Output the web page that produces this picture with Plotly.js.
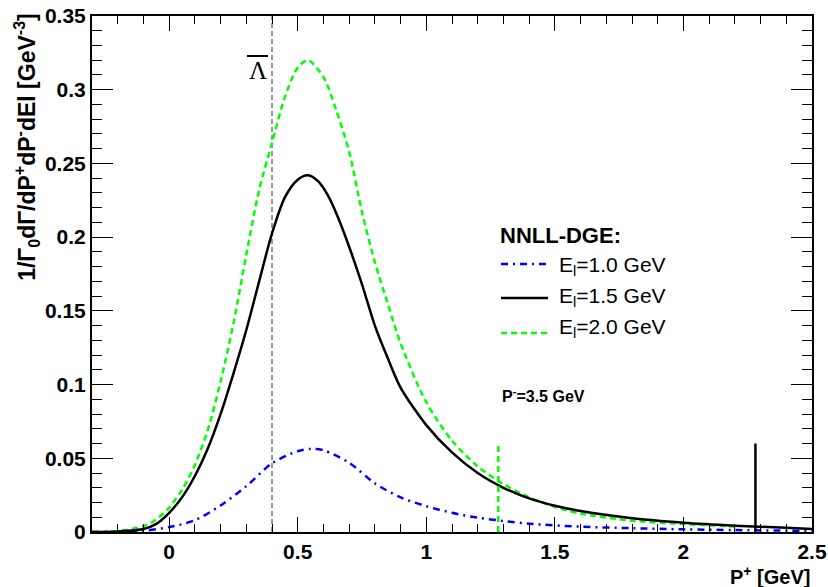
<!DOCTYPE html>
<html>
<head>
<meta charset="utf-8">
<script src="https://cdn.plot.ly/plotly-3.0.1.min.js"></script>
<style>html,body{margin:0;padding:0;background:#fff;}#chart{width:828px;height:587px;}</style>
</head>
<body>
<div id="chart"></div>
<script>
// P+ grid and curves
const xBlack = [-0.3,-0.2,-0.1,-0.05,0,0.05,0.1,0.15,0.2,0.25,0.3,0.35,0.4,0.45,0.5,0.54,0.58,0.62,0.66,0.7,0.75,0.8,0.85,0.9,1.0,1.1,1.2,1.3,1.4,1.5,1.6,1.8,2.0,2.2,2.4,2.5];
const yBlack = [0,0.0004,0.002,0.0055,0.013,0.0235,0.038,0.0565,0.080,0.1075,0.137,0.170,0.2025,0.227,0.239,0.242,0.2378,0.2275,0.212,0.1935,0.168,0.140,0.118,0.098,0.0725,0.054,0.040,0.030,0.0228,0.0178,0.0142,0.0093,0.0063,0.0043,0.0028,0.002];

const xGreen = [-0.3,-0.2,-0.1,-0.05,0,0.05,0.1,0.15,0.2,0.25,0.3,0.35,0.4,0.45,0.5,0.54,0.6,0.65,0.7,0.75,0.8,0.85,0.9,1.0,1.1,1.2,1.3,1.4,1.5,1.6,1.8,2.0,2.2];
const yGreen = [0,0.0006,0.004,0.0085,0.0165,0.0285,0.0455,0.069,0.102,0.1415,0.188,0.232,0.264,0.295,0.315,0.32,0.3086,0.286,0.258,0.217,0.183,0.155,0.128,0.088,0.062,0.0445,0.0325,0.0235,0.017,0.0125,0.0077,0.0054,0.0038];

const xBlue = [-0.3,-0.2,-0.1,0,0.1,0.2,0.3,0.4,0.5,0.55,0.6,0.7,0.8,0.9,1.0,1.1,1.2,1.3,1.4,1.6,1.8,2.0,2.2,2.5];
const yBlue = [0,0.0002,0.0008,0.0033,0.008,0.018,0.031,0.0466,0.0548,0.0563,0.0555,0.047,0.033,0.0235,0.0175,0.013,0.0097,0.0075,0.0056,0.0036,0.0026,0.0018,0.0013,0.0007];

// markers
const lambdaBarX = 0.4;
const yRangeMax = 0.35;
const greenCutX = 1.28;
const blackCutX = 2.28;
const cutHeight = 0.06;

const seriesLabels = ["E<sub>l</sub>=1.0 GeV", "E<sub>l</sub>=1.5 GeV", "E<sub>l</sub>=2.0 GeV"];

const F = "Liberation Sans, Arial, Helvetica, sans-serif";

const traces = [
  {x:[lambdaBarX,lambdaBarX], y:[0,yRangeMax], mode:'lines', line:{color:'#333', width:1, dash:'5px,3px'}, hoverinfo:'skip'},
  {x:xBlue, y:yBlue, mode:'lines', line:{color:'#0000ff', width:2.5, dash:'7px,5px,2px,5px', shape:'spline', smoothing:0.8}, name:seriesLabels[0]},
  {x:xGreen, y:yGreen, mode:'lines', line:{color:'#00ff00', width:2.5, dash:'6px,4px', shape:'spline', smoothing:0.8}, name:seriesLabels[2]},
  {x:xBlack, y:yBlack, mode:'lines', line:{color:'#000', width:2.5, shape:'spline', smoothing:0.8}, name:seriesLabels[1]},
  {x:[greenCutX,greenCutX], y:[0,cutHeight], mode:'lines', line:{color:'#00ff00', width:2.5, dash:'6px,4px'}},
  {x:[blackCutX,blackCutX], y:[0,cutHeight], mode:'lines', line:{color:'#000', width:2.5}}
];

const ax = {
  showgrid:false, zeroline:false, showline:true, linecolor:'#000', linewidth:2,
  ticks:'inside', tickcolor:'#000', tickwidth:1, mirror:'allticks',
  tickfont:{family:F, size:21, weight:'bold', color:'#000'}
};

const layout = {
  width:828, height:587,
  margin:{l:92, r:16, t:16, b:55},
  paper_bgcolor:'#fff', plot_bgcolor:'#fff',
  showlegend:false,
  xaxis:Object.assign({}, ax, {range:[-0.3,2.5], tick0:0, dtick:0.5, ticklen:15,
    minor:{tick0:0, dtick:0.1, ticks:'inside', ticklen:8, tickcolor:'#000', tickwidth:1}}),
  yaxis:Object.assign({}, ax, {range:[0,0.35], tick0:0, dtick:0.05, ticklen:21,
    minor:{tick0:0, dtick:0.01, ticks:'inside', ticklen:10, tickcolor:'#000', tickwidth:1}}),
  shapes:[
    // legend samples
    {type:'line', xref:'paper', yref:'paper', x0:(501-92)/720, x1:(548-92)/720, y0:(532-264)/516, y1:(532-264)/516, line:{color:'#0000ff', width:2.5, dash:'7px,5px,2px,5px'}},
    {type:'line', xref:'paper', yref:'paper', x0:(501-92)/720, x1:(548-92)/720, y0:(532-298)/516, y1:(532-298)/516, line:{color:'#000', width:2.5}},
    {type:'line', xref:'paper', yref:'paper', x0:(501-92)/720, x1:(548-92)/720, y0:(532-333)/516, y1:(532-333)/516, line:{color:'#00ff00', width:2.5, dash:'6px,4px'}},
    // overline of Lambda-bar
    {type:'line', xref:'paper', yref:'paper', x0:(247-92)/720, x1:(268-92)/720, y0:(532-56)/516, y1:(532-56)/516, line:{color:'#000', width:2}}
  ],
  annotations:[
    {xref:'paper', yref:'paper', x:-84/720, y:1.01, xanchor:'left', yanchor:'top', textangle:-90, showarrow:false,
      text:'1/Γ<sub>0</sub>dΓ/dP<sup>+</sup>dP<sup>-</sup>dEl [GeV<sup>-3</sup>]', font:{family:F, size:23, weight:'bold', color:'#000'}},
    {xref:'paper', yref:'paper', x:1.0, y:-43/516, xanchor:'right', yanchor:'middle', showarrow:false,
      text:'P<sup>+</sup> [GeV]', font:{family:F, size:20, weight:'bold', color:'#000'}},
    {xref:'paper', yref:'paper', x:(498-92)/720, y:(532-235)/516, xanchor:'left', yanchor:'middle', showarrow:false,
      text:'NNLL-DGE:', font:{family:F, size:22, weight:'bold', color:'#000'}},
    {xref:'paper', yref:'paper', x:(557-92)/720, y:(532-266)/516, xanchor:'left', yanchor:'middle', showarrow:false,
      text:seriesLabels[0], font:{family:F, size:21, color:'#000'}},
    {xref:'paper', yref:'paper', x:(557-92)/720, y:(532-297)/516, xanchor:'left', yanchor:'middle', showarrow:false,
      text:seriesLabels[1], font:{family:F, size:21, color:'#000'}},
    {xref:'paper', yref:'paper', x:(557-92)/720, y:(532-328)/516, xanchor:'left', yanchor:'middle', showarrow:false,
      text:seriesLabels[2], font:{family:F, size:21, color:'#000'}},
    {xref:'paper', yref:'paper', x:(500-92)/720, y:(532-395)/516, xanchor:'left', yanchor:'middle', showarrow:false,
      text:'P<sup>-</sup>=3.5 GeV', font:{family:F, size:16, weight:'bold', color:'#000'}},
    {xref:'paper', yref:'paper', x:(257.5-92)/720, y:(532-71)/516, xanchor:'center', yanchor:'middle', showarrow:false,
      text:'Λ', font:{family:'Liberation Serif, Times New Roman, serif', size:25, color:'#000'}}
  ]
};

Plotly.newPlot('chart', traces, layout, {displayModeBar:false, staticPlot:true});
</script>
</body>
</html>
